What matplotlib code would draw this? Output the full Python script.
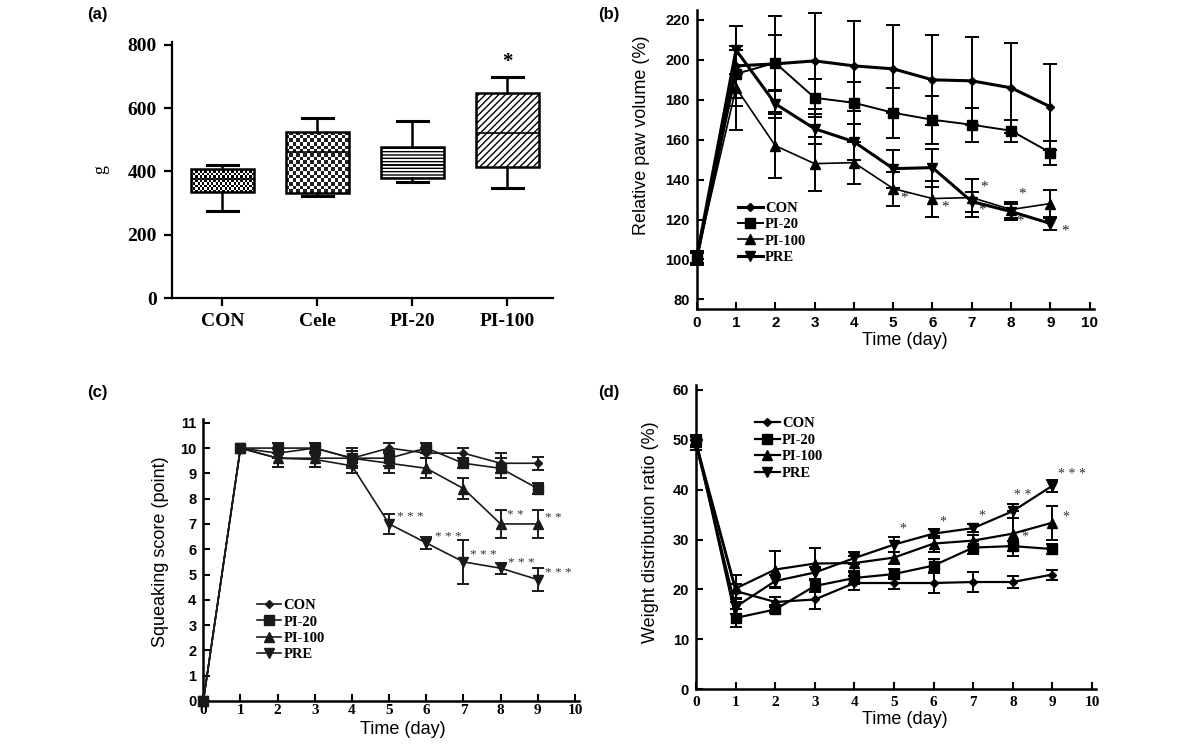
import numpy as np
import matplotlib
matplotlib.use('Agg')
import matplotlib.pyplot as plt

SERIF = 'Liberation Serif'
SANS = 'Liberation Sans'
plt.rcParams['font.family'] = SANS

# ---- panel (a): box plot data (g)
groups = ['CON', 'Cele', 'PI-20', 'PI-100']
box_low = [274, 321, 368, 349]
box_q1 = [335, 332, 379, 413]
box_med = [377, 463, 421, 521]
box_q3 = [408, 526, 476, 647]
box_high = [421, 570, 560, 700]

# ---- time courses
days = [0, 1, 2, 3, 4, 5, 6, 7, 8, 9]
names = ['CON', 'PI-20', 'PI-100', 'PRE']

# (b) relative paw volume (%)
paw_con = [100, 197, 198, 199.5, 197, 195.5, 190, 189.5, 186, 176.5]
paw_pi20 = [100.5, 193, 198.5, 181, 178.5, 173.5, 170, 167.5, 164.5, 153.5]
paw_pi100 = [101, 186, 157, 148, 148.5, 135.5, 130.5, 131, 125, 128]
paw_pre = [101, 205, 178, 165.5, 159, 145.5, 146, 129, 124, 118]
paw_con_err = [3, 20, 24, 24, 22.5, 22, 22.5, 22, 22.5, 21.5]
paw_pi20_err = [3, 12, 14, 9.5, 10.5, 12.5, 12, 8.5, 5.5, 6]
paw_pi100_err = [3, 21, 16, 13.5, 10.5, 8.5, 9, 9.5, 4, 7]
paw_pre_err = [3, 12, 7, 7.5, 9, 9.5, 9.5, 5, 4, 3.5]
paw_star_x = [5.27, 6.32, 7.3, 7.25, 8.27, 8.22, 9.37]
paw_star_y = [131, 126, 136.5, 124.5, 133, 119, 114]

# (c) squeaking score (point)
nan = np.nan
sq_con = [0, 10, 9.8, 10, 9.6, 10, 9.8, 9.8, 9.4, 9.4]
sq_pi20 = [0, 10, 10, 10, 9.6, 9.6, 10, 9.4, 9.2, 8.4]
sq_pi100 = [0, 10, 9.6, 9.6, 9.6, 9.4, 9.2, 8.4, 7.0, 7.0]
sq_pre = [0, 10, 9.6, 9.55, 9.3, 7.0, 6.25, 5.5, 5.25, 4.8]
sq_con_err = [nan, nan, 0.2, 0.2, 0.4, 0.2, 0.2, 0.2, 0.4, 0.25]
sq_pi20_err = [nan, nan, 0.2, 0.2, 0.3, 0.3, 0.2, 0.2, 0.4, 0.2]
sq_pi100_err = [nan, nan, 0.35, 0.35, 0.3, 0.4, 0.4, 0.4, 0.55, 0.55]
sq_pre_err = [nan, nan, 0.35, 0.3, 0.3, 0.4, 0.25, 0.87, 0.22, 0.47]
sq_star_x = [5.2, 6.23, 7.17, 8.2, 9.19, 8.16, 9.19]
sq_star_y = [7.28, 6.5, 5.77, 5.47, 5.07, 7.35, 7.25]
sq_star_txt = ['* * *', '* * *', '* * *', '* * *', '* * *', '* *', '* *']

# (d) weight distribution ratio (%)
wd_con = [49, 19.7, 17.5, 18, 21.3, 21.3, 21.3, 21.5, 21.5, 23]
wd_pi20 = [50, 14.3, 16, 20.7, 22.3, 23.1, 24.8, 28.4, 28.7, 28.1]
wd_pi100 = [49.5, 20.2, 24, 25.2, 25.3, 26.4, 29.2, 29.8, 31.2, 33.4]
wd_pre = [49, 16.5, 21.7, 23.4, 26.3, 29.0, 31.2, 32.3, 35.7, 40.8]
wd_con_err = [1, 1.5, 1, 2, 1.5, 1.3, 2, 2.1, 1.3, 1]
wd_pi20_err = [1, 1.8, 0.8, 1.2, 1.2, 1.0, 1.3, 1.3, 1.0, 1.0]
wd_pi100_err = [1, 2.7, 3.8, 3.2, 1.5, 1.2, 1.6, 1.2, 4.5, 3.4]
wd_pre_err = [1, 1.5, 1.2, 1.2, 1.2, 1.5, 0.9, 0.8, 1.4, 1.2]
wd_star_x = [5.22, 6.22, 7.21, 8.26, 8.3, 9.5, 9.35]
wd_star_y = [32.1, 33.6, 34.7, 38.9, 30.6, 43, 34.6]
wd_star_txt = ['*', '*', '*', '* *', '*', '* * *', '*']

W, H = 1200, 747
fig = plt.figure(figsize=(12, 7.47), dpi=100)


def px_axes(left, right, top, bottom):
    return fig.add_axes([left / W, 1 - bottom / H, (right - left) / W, (bottom - top) / H])


def clean(ax, lw=1.6):
    for s in ['top', 'right']:
        ax.spines[s].set_visible(False)
    for s in ['left', 'bottom']:
        ax.spines[s].set_linewidth(lw)


def checker(ax, patch, x0, x1, y0, y1, nx, ny, vmax):
    pattern = np.indices((ny, nx)).sum(axis=0) % 2
    im = ax.imshow(pattern, extent=[x0, x1, y0, y1], cmap='gray_r', vmin=0, vmax=vmax,
                   interpolation='nearest', aspect='auto', zorder=1.5)
    im.set_clip_path(patch)


# ================= (a)
ax = px_axes(172, 553, 41.8, 298)
clean(ax, 1.6)
stats = []
for i, g in enumerate(groups):
    stats.append(dict(label=g, whislo=box_low[i], q1=box_q1[i], med=box_med[i],
                      q3=box_q3[i], whishi=box_high[i], fliers=[]))
bw = 0.66
bp = ax.bxp(stats, positions=range(len(groups)), widths=bw, patch_artist=True,
            boxprops=dict(linewidth=1.8, edgecolor='black', facecolor='white'),
            whiskerprops=dict(linewidth=1.8), capprops=dict(linewidth=2.2),
            medianprops=dict(color='black', linewidth=1.2), showfliers=False)
boxes = bp['boxes']
boxes[0].set_facecolor('none')
boxes[1].set_facecolor('none')
checker(ax, boxes[0], -bw / 2, bw / 2, box_q1[0], box_q3[0], 28, 10, 1.0)
checker(ax, boxes[1], 1 - bw / 2, 1 + bw / 2, box_q1[1], box_q3[1], 18, 17, 1.15)
plt.rcParams['hatch.linewidth'] = 1.0
boxes[2].set_hatch('-----')
boxes[3].set_hatch('/////')
ax.text(3, 747, '*', ha='center', va='center', fontsize=15, fontfamily=SERIF, fontweight='bold')
ax.set_xlim(-0.53, 3.48)
ax.set_ylim(0, 810)
ax.set_yticks([0, 200, 400, 600, 800], labels=['0', '200', '400', '600', '800'],
              fontfamily=SERIF, fontweight='bold', fontsize=14)
ax.set_xticks(range(len(groups)), labels=groups, fontfamily=SERIF, fontweight='bold', fontsize=14)
ax.tick_params(direction='out', length=6, width=1.6, pad=5)
ax.set_ylabel('g', fontfamily=SERIF, fontsize=13)
ax.yaxis.set_label_coords(-0.165, 0.5)


# ================= line panels
markers = [('D', 4.5), ('s', 6.5), ('^', 6.5), ('v', 6.5)]


def line_panel(ax, values, errs, widths, capsize, color='black'):
    handles = []
    for (mk, ms), y, e, lw in zip(markers, values, errs, widths):
        c = ax.errorbar(days, y, yerr=e, fmt='-', marker=mk, ms=ms, color=color, lw=lw,
                        elinewidth=1.4, capsize=capsize, capthick=1.4, clip_on=False, zorder=3)
        handles.append(c[0])
    return handles


def finish(ax, handles, anchor, ylabel, xlab_coords, ylab_coords, xfam, xsize, ysize, xpad=5):
    ax.legend(handles, names, loc='upper left', bbox_to_anchor=anchor, frameon=False,
              borderpad=0, borderaxespad=0, handlelength=1.7, handletextpad=0.15,
              labelspacing=0.22, prop=dict(family=SERIF, weight='bold', size=10.5))
    ax.set_xticks(range(11), labels=[str(t) for t in range(11)], fontfamily=xfam,
                  fontweight='bold', fontsize=xsize)
    ax.tick_params(direction='in', length=5, width=1.5, pad=5)
    ax.tick_params(axis='x', pad=xpad)
    ax.set_xlabel('Time (day)', fontsize=13)
    ax.set_ylabel(ylabel, fontsize=13)
    ax.xaxis.set_label_coords(*xlab_coords)
    ax.yaxis.set_label_coords(*ylab_coords)


# (b)
ax = px_axes(696.7, 1093.6, 10, 309.3)
clean(ax, 1.8)
h = line_panel(ax, [paw_con, paw_pi20, paw_pi100, paw_pre],
               [paw_con_err, paw_pi20_err, paw_pi100_err, paw_pre_err],
               [2.2, 1.4, 1.2, 2.2], 5)
for x, y in zip(paw_star_x, paw_star_y):
    ax.text(x, y, '*', ha='center', va='center', fontsize=11, fontfamily=SERIF, color='#222')
ax.set_xlim(0, 10.1)
ax.set_ylim(75, 225)
ax.set_yticks(range(80, 221, 20), labels=[str(v) for v in range(80, 221, 20)],
              fontweight='bold', fontsize=10.5)
finish(ax, h, (0.104, 0.36), 'Relative paw volume (%)', (0.525, -0.075), (-0.118, 0.582),
       SANS, 11, 10.5)

# (c)
ax = px_axes(203.3, 578.7, 419, 701)
clean(ax, 1.8)
h = line_panel(ax, [sq_con, sq_pi20, sq_pi100, sq_pre],
               [sq_con_err, sq_pi20_err, sq_pi100_err, sq_pre_err],
               [1.2, 1.2, 1.2, 1.2], 4.5, color='#1a1a1a')
for x, y, t in zip(sq_star_x, sq_star_y, sq_star_txt):
    ax.text(x, y, t, ha='left', va='center', fontsize=9.5, fontfamily=SERIF, color='#333')
ax.set_xlim(0, 10.1)
ax.set_ylim(0, 11.15)
ax.set_yticks(range(0, 12), labels=[str(v) for v in range(0, 12)], fontweight='bold', fontsize=10.5)
finish(ax, h, (0.142, 0.362), 'Squeaking score (point)', (0.532, -0.072), (-0.092, 0.528),
       SERIF, 11, 10.5, xpad=2)

# (d)
ax = px_axes(696, 1096, 384.9, 689.3)
clean(ax, 1.8)
h = line_panel(ax, [wd_con, wd_pi20, wd_pi100, wd_pre],
               [wd_con_err, wd_pi20_err, wd_pi100_err, wd_pre_err],
               [1.6, 1.6, 1.6, 1.6], 4.5)
for x, y, t in zip(wd_star_x, wd_star_y, wd_star_txt):
    ax.text(x, y, t, ha='center', va='center', fontsize=10, fontfamily=SERIF, color='#333')
ax.set_xlim(0, 10.1)
ax.set_ylim(0, 61)
ax.set_yticks(range(0, 61, 10), labels=[str(v) for v in range(0, 61, 10)], fontweight='bold', fontsize=10.5)
finish(ax, h, (0.1475, 0.894), 'Weight distribution ratio (%)', (0.522, -0.07), (-0.093, 0.517),
       SERIF, 11, 10.5)

# panel letters
for x, y, t in [(87, 15, '(a)'), (598, 15, '(b)'), (87, 392, '(c)'), (598, 392, '(d)')]:
    fig.text(x / W, 1 - y / H, t, ha='left', va='center', fontsize=12, fontweight='bold')

fig.savefig('out.png', dpi=100)
